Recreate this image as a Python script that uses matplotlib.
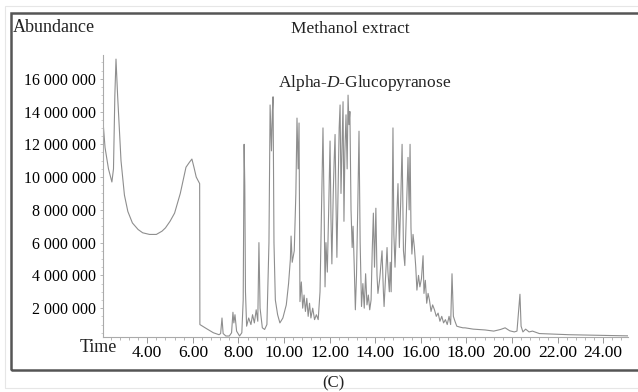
import numpy as np
import matplotlib
matplotlib.use("Agg")
import matplotlib.pyplot as plt
from matplotlib.patches import Rectangle
from matplotlib.ticker import MultipleLocator

plt.rcParams['font.family'] = ['Liberation Serif', 'DejaVu Serif']
plt.rcParams['mathtext.fontset'] = 'custom'
plt.rcParams['mathtext.rm'] = 'Liberation Serif'
plt.rcParams['mathtext.it'] = 'Liberation Serif:italic'

# [1] chromatogram vertices (time in min, abundance in millions)
solvent_t = [2.06, 2.15, 2.30, 2.45, 2.52, 2.58, 2.63, 2.70, 2.85, 3.00, 3.15, 3.35, 3.60, 3.80,
             4.10, 4.40, 4.65, 4.80, 5.00, 5.20, 5.45, 5.70, 5.85, 5.96, 6.05, 6.15, 6.30, 6.31,
             6.60, 6.90, 7.15]
solvent_a = [13.4, 11.8, 10.5, 9.7, 10.5, 15.0, 17.2, 15.0, 11.0, 8.9, 7.9, 7.2, 6.8, 6.6,
             6.5, 6.5, 6.7, 6.9, 7.3, 7.8, 9.0, 10.6, 10.9, 11.1, 10.6, 10.0, 9.6, 1.0,
             0.75, 0.5, 0.38]

early_t = [7.22, 7.28, 7.33, 7.45, 7.60, 7.70, 7.76, 7.80, 7.85, 7.92, 8.05, 8.15, 8.21, 8.25,
           8.28, 8.31, 8.36, 8.45, 8.55, 8.62, 8.70, 8.78, 8.85, 8.90, 8.95, 9.05, 9.15, 9.25,
           9.34, 9.39, 9.45, 9.49, 9.52, 9.56, 9.62, 9.72, 9.82]
early_a = [0.45, 1.4, 0.45, 0.3, 0.3, 0.5, 1.75, 1.1, 1.6, 0.6, 0.3, 0.5, 2.5, 12.0,
           9.5, 3.0, 0.9, 1.4, 1.0, 1.6, 1.1, 1.9, 1.2, 6.0, 2.0, 0.8, 0.7, 1.0,
           6.0, 14.4, 11.6, 14.0, 14.9, 6.0, 2.5, 1.6, 1.1]

mid_t = [9.95, 10.10, 10.20, 10.28, 10.31, 10.36, 10.45, 10.52, 10.57, 10.62, 10.66, 10.70,
         10.76, 10.82, 10.88, 10.94, 11.00, 11.06, 11.12, 11.18, 11.26, 11.34, 11.42, 11.50]
mid_a = [1.4, 2.2, 3.5, 5.0, 6.4, 4.8, 5.5, 9.0, 13.6, 10.5, 13.3, 2.4,
         3.6, 2.0, 2.8, 1.8, 2.6, 1.5, 2.3, 1.4, 2.0, 1.3, 1.6, 1.3]

cluster_t = [11.58, 11.66, 11.71, 11.76, 11.80, 11.84, 11.90, 11.96, 12.02, 12.06, 12.10, 12.16,
             12.20, 12.24, 12.28, 12.32, 12.38, 12.42, 12.46, 12.50, 12.55, 12.59, 12.63, 12.67,
             12.72, 12.77, 12.81, 12.85, 12.89, 12.94, 12.99, 13.03, 13.08, 13.13, 13.18, 13.24,
             13.29, 13.34, 13.40, 13.46, 13.52, 13.58, 13.64, 13.70, 13.76, 13.82, 13.87, 13.92,
             13.97, 14.03, 14.08]
cluster_a = [3.0, 9.0, 13.0, 8.0, 3.3, 6.0, 4.2, 8.0, 12.2, 7.5, 4.7, 9.0,
             11.0, 12.6, 8.5, 5.1, 10.0, 13.0, 14.4, 9.0, 12.0, 14.6, 7.3, 11.5,
             13.8, 10.5, 15.0, 13.2, 14.0, 8.0, 5.7, 7.0, 4.6, 1.9, 4.0, 8.5,
             12.8, 6.0, 2.1, 3.5, 2.0, 4.1, 2.2, 2.8, 1.9, 2.5, 5.5, 7.8,
             4.5, 8.1, 4.0]

late_t = [14.12, 14.20, 14.30, 14.36, 14.39, 14.46, 14.52, 14.56, 14.62, 14.66, 14.70, 14.74,
          14.78, 14.82, 14.87, 14.93, 15.00, 15.06, 15.12, 15.18, 15.24, 15.30, 15.36, 15.40,
          15.44, 15.49, 15.53, 15.57, 15.61, 15.66, 15.72, 15.78, 15.83, 15.90, 15.96, 16.03,
          16.10, 16.14, 16.20, 16.26, 16.32, 16.38, 16.45, 16.52, 16.60, 16.68, 16.76, 16.84,
          16.92, 17.00, 17.08, 17.16, 17.24, 17.31, 17.37, 17.43, 17.50, 17.58, 17.70, 17.85]
late_a = [2.9, 3.8, 5.5, 3.0, 2.1, 4.0, 5.7, 4.2, 3.0, 4.8, 3.0, 7.0,
          13.0, 6.5, 4.5, 7.0, 9.6, 5.7, 8.5, 12.0, 5.5, 4.6, 7.5, 9.5,
          11.2, 8.0, 12.0, 6.9, 5.3, 6.5, 5.7, 4.5, 3.1, 4.0, 3.3, 3.8,
          5.2, 2.9, 3.7, 2.3, 2.9, 2.5, 1.8, 2.2, 1.9, 1.5, 1.7, 1.2,
          1.5, 1.1, 1.3, 1.0, 1.5, 1.0, 4.1, 1.5, 1.2, 0.9, 0.85, 0.8]

tail_t = [17.94, 18.30, 18.82, 19.20, 19.50, 19.70, 19.90, 20.10, 20.22, 20.30, 20.35, 20.40,
          20.48, 20.60, 20.75, 20.90, 21.20, 21.71, 22.50, 23.50, 24.30, 25.09]
tail_a = [0.8, 0.72, 0.67, 0.6, 0.7, 0.8, 0.62, 0.55, 0.6, 2.0, 2.85, 0.9,
          0.55, 0.72, 0.55, 0.6, 0.45, 0.42, 0.38, 0.35, 0.33, 0.31]

x_ticks = [4, 6, 8, 10, 12, 14, 16, 18, 20, 22, 24]
x_labels = ["4.00", "6.00", "8.00", "10.00", "12.00", "14.00", "16.00", "18.00", "20.00", "22.00", "24.00"]
y_ticks = [2, 4, 6, 8, 10, 12, 14, 16]
y_labels = ["2 000 000", "4 000 000", "6 000 000", "8 000 000",
            "10 000 000", "12 000 000", "14 000 000", "16 000 000"]

t = np.concatenate([solvent_t, early_t, mid_t, cluster_t, late_t, tail_t])
a = np.concatenate([solvent_a, early_a, mid_a, cluster_a, late_a, tail_a]) * 1e6

# [2] figure
fig = plt.figure(figsize=(6.38, 3.92), dpi=100)
ax = fig.add_axes([103/638, 55/392, 525/638, 282/392])
ax.plot(t, a, color='#8e8e8e', lw=0.8)

ax.set_xlim(2.06, 25.09)
ax.set_ylim(0.24e6, 17.45e6)
ax.set_xticks(x_ticks)
ax.set_xticklabels(x_labels, fontsize=12.5)
ax.set_yticks([v * 1e6 for v in y_ticks])
ax.set_yticklabels(y_labels, fontsize=11.5)
ax.xaxis.set_minor_locator(MultipleLocator(0.4))
ax.yaxis.set_minor_locator(MultipleLocator(0.5e6))
ax.tick_params(axis='x', which='major', length=4, width=0.7, color='#999999', pad=2)
ax.tick_params(axis='x', which='minor', length=2.5, width=0.6, color='#aaaaaa')
ax.tick_params(axis='y', which='major', length=2, width=0.6, color='#aaaaaa', pad=3)
ax.tick_params(axis='y', which='minor', length=1.5, width=0.5, color='#bbbbbb')
for s in ['top', 'right']:
    ax.spines[s].set_visible(False)
for s in ['left', 'bottom']:
    ax.spines[s].set_color('#aaaaaa')
    ax.spines[s].set_linewidth(0.8)

# [3] texts
fig.text(13/638, 1 - 28/392, "Abundance", fontsize=13, ha='left', va='center', color='#222222')
fig.text(350/638, 1 - 29/392, "Methanol extract", fontsize=12.5, ha='center', va='center', color='#222222')
fig.text(278/638, 1 - 83/392, r"Alpha-$\mathit{D}$-Glucopyranose", fontsize=12.5,
         ha='left', va='center', color='#222222')
fig.text(80/638, 1 - 347/392, "Time", fontsize=13, ha='left', va='center', color='#222222')
fig.text(333/638, 1 - 383/392, "(C)", fontsize=12, ha='center', va='center', color='#222222')

# [4] outer frame
fig.patches.append(Rectangle((11/638, 1 - 370/392), 1.0, 357/392, transform=fig.transFigure,
                             fill=False, edgecolor='#555555', lw=1.8, clip_on=False))
fig.patches.append(Rectangle((5/638, 1 - 388/392), 1.0, 382/392, transform=fig.transFigure,
                             fill=False, edgecolor='#e6e6e6', lw=0.8, clip_on=False))

fig.savefig("out.png", dpi=100)
